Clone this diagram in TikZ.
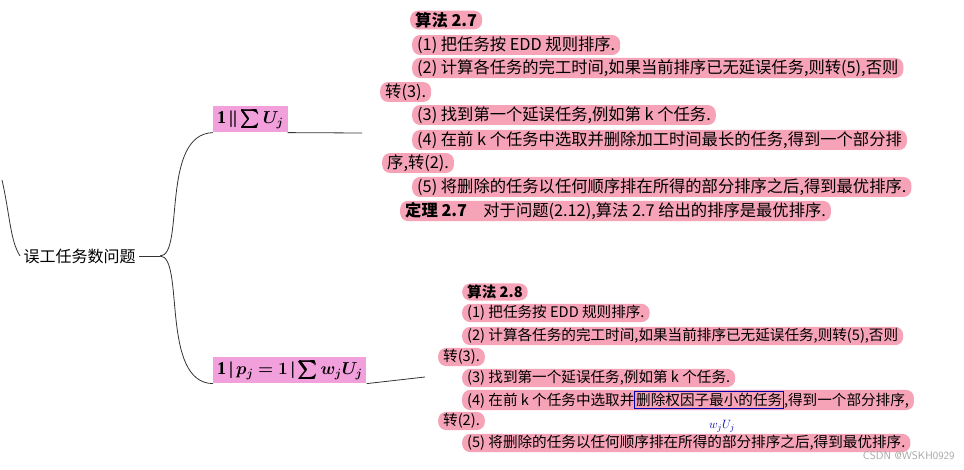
\documentclass[tikz,border=0pt]{standalone}
\usepackage{amsmath,amssymb,bm}
\usepackage{fontspec}
\setmainfont{Liberation Serif}
\newfontfamily\cjk{Noto Sans CJK SC}
\definecolor{hlpink}{HTML}{F6A3B8}
\definecolor{boxpink}{HTML}{F2A0DC}
\definecolor{linegray}{HTML}{333333}
\begin{document}
\begin{tikzpicture}[x=1pt,y=-1pt,
  hl/.style={anchor=west,fill=hlpink,rounded corners=8pt,inner xsep=5pt,inner ysep=1.5pt,font=\cjk\fontsize{16.3}{18}\selectfont},
  hls/.style={hl,font=\cjk\fontsize{14.6}{16}\selectfont},
  topic/.style={fill=boxpink,inner sep=4pt,font=\bfseries\fontsize{18}{20}\selectfont},
  conn/.style={draw=linegray,line width=0.8pt}]
\useasboundingbox (0,0) rectangle (964,470);
\fill[white] (0,0) rectangle (964,470);
\draw[conn] (2,180) .. controls (10,215) and (10,240) .. (20,256);
\node[anchor=west,font=\cjk\fontsize{16}{18}\selectfont] (root) at (20,256) {误工任务数问题};
\coordinate (r) at (160,256);
\draw[conn] (root.east) -- (r);
\node[topic,anchor=west] (t1) at (213,119) {1\,||\,$\bm{\sum U_j}$};
\node[topic,anchor=west] (t2) at (213,370) {1\,|\,$\bm{p_j=1}$\,|\,$\bm{\sum w_jU_j}$};
\draw[conn] (r) .. controls (185,256) and (160,134) .. (t1.south west);
\draw[conn] (r) .. controls (185,256) and (160,383) .. (t2.south west);
\coordinate (e1) at (362,133);
\coordinate (e2) at (425,377);
\draw[conn] (t1.south east) -- (e1);
\draw[conn] (t2.south east) -- (e2);
% top block
\node[hl] (a0) at (410,20) {\textbf{算法 2.7}};
\node[hl] (a1) at (412,45) {(1) 把任务按 EDD 规则排序.};
\node[hl] (a2) at (412,68) {(2) 计算各任务的完工时间,如果当前排序已无延误任务,则转(5),否则};
\node[hl] (a3) at (380,92) {转(3).};
\node[hl] (a4) at (412,115) {(3) 找到第一个延误任务,例如第 \textit{k} 个任务.};
\node[hl] (a5) at (412,140) {(4) 在前 \textit{k} 个任务中选取并删除加工时间最长的任务,得到一个部分排};
\node[hl] (a6) at (382,163) {序,转(2).};
\node[hl] (a7) at (412,187) {(5) 将删除的任务以任何顺序排在所得的部分排序之后,得到最优排序.};
\node[hl] (a8) at (400,211) {\textbf{定理 2.7}\quad 对于问题(2.12),算法 2.7 给出的排序是最优排序.};
% bottom block
\node[hls] (b0) at (462,292) {\textbf{算法 2.8}};
\node[hls] (b1) at (462,313) {(1) 把任务按 EDD 规则排序.};
\node[hls] (b2) at (462,336) {(2) 计算各任务的完工时间,如果当前排序已无延误任务,则转(5),否则};
\node[hls] (b3) at (438,357) {转(3).};
\node[hls] (b4) at (462,378) {(3) 找到第一个延误任务,例如第 \textit{k} 个任务.};
\node[hls] (b5) at (462,400) {(4) 在前 \textit{k} 个任务中选取并\tikz[baseline]\node[draw=blue!70!black,sharp corners,line width=0.6pt,inner sep=1.5pt,anchor=base] (bx) {删除权因子最小的任务};,得到一个部分排序,};
\node[hls] (b6) at (438,421) {转(2).};
\node[hls] (b7) at (462,443) {(5) 将删除的任务以任何顺序排在所得的部分排序之后,得到最优排序.};
\node[text=blue!70!black,font=\fontsize{13}{15}\selectfont] (wu) at (722,426) {$w_jU_j$};
\node[anchor=east,text=gray!70,font=\fontsize{11}{13}\selectfont\sffamily] (wm) at (958,456) {CSDN @WSKH0929};
\end{tikzpicture}
\end{document}
